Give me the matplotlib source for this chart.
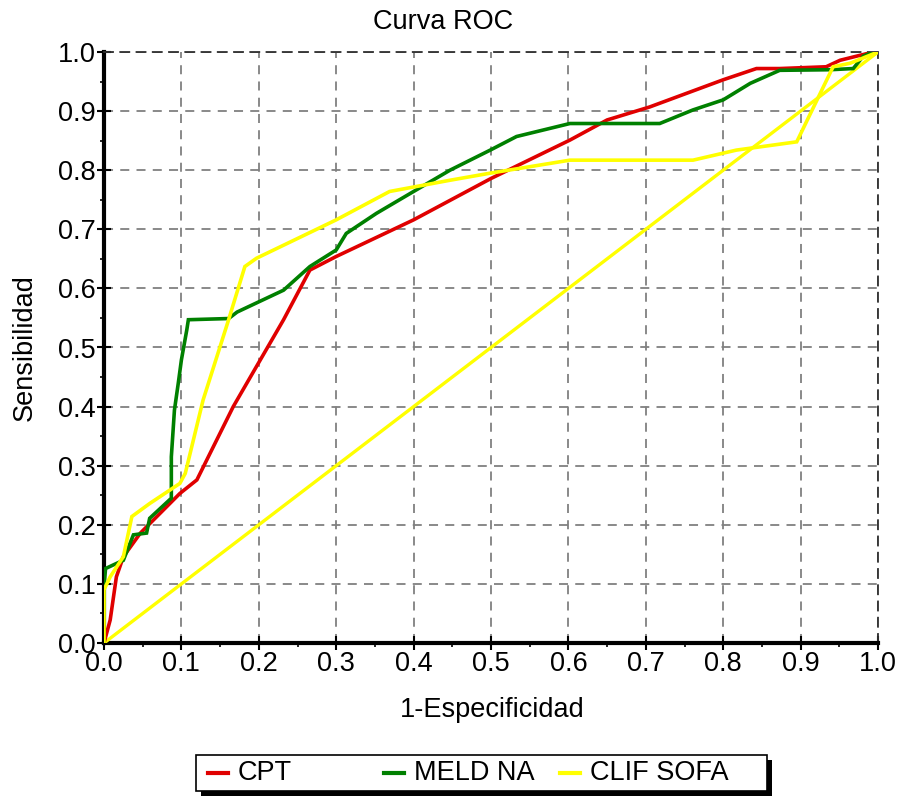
import matplotlib
matplotlib.use("Agg")
import matplotlib.pyplot as plt
from matplotlib.patches import Rectangle
from matplotlib.lines import Line2D
from matplotlib.ticker import MultipleLocator

plt.rcParams['font.family'] = ['Liberation Sans', 'DejaVu Sans']

title = "Curva ROC"
xlabel = "1-Especificidad"
ylabel = "Sensibilidad"

cpt_x = [0, 0.008, 0.016, 0.025, 0.047, 0.098, 0.12, 0.167, 0.232, 0.266, 0.3, 0.4, 0.5,
         0.602, 0.65, 0.705, 0.8, 0.843, 0.873, 0.933, 0.951, 0.994, 1.0]
cpt_y = [0, 0.039, 0.112, 0.146, 0.186, 0.253, 0.276, 0.4, 0.547, 0.631, 0.654, 0.716, 0.786,
         0.851, 0.885, 0.907, 0.953, 0.972, 0.972, 0.975, 0.986, 1.0, 1.0]

meld_x = [0, 0, 0.002, 0.025, 0.038, 0.055, 0.059, 0.087, 0.087, 0.091, 0.096, 0.1, 0.107,
          0.109, 0.161, 0.172, 0.232, 0.266, 0.3, 0.313, 0.352, 0.4, 0.447, 0.499, 0.533,
          0.602, 0.718, 0.761, 0.8, 0.835, 0.873, 0.938, 0.968, 0.981, 0.994, 1.0]
meld_y = [0, 0.095, 0.126, 0.14, 0.183, 0.186, 0.211, 0.245, 0.315, 0.394, 0.44, 0.479, 0.53,
          0.547, 0.549, 0.56, 0.597, 0.637, 0.665, 0.693, 0.727, 0.764, 0.8, 0.834, 0.857,
          0.879, 0.879, 0.902, 0.919, 0.947, 0.969, 0.97, 0.972, 0.993, 1.0, 1.0]

clif_x = [0, 0, 0.008, 0.025, 0.036, 0.059, 0.098, 0.105, 0.128, 0.161, 0.182, 0.197, 0.3,
          0.369, 0.447, 0.499, 0.602, 0.761, 0.817, 0.895, 0.942, 0.964, 1.0]
clif_y = [0, 0.09, 0.112, 0.146, 0.214, 0.236, 0.27, 0.287, 0.411, 0.547, 0.637, 0.651, 0.716,
          0.764, 0.783, 0.795, 0.817, 0.817, 0.834, 0.848, 0.975, 0.981, 1.0]

ref_x = [0, 1]
ref_y = [0, 1]

series = [("CPT", cpt_x, cpt_y, "#e00000"),
          ("MELD NA", meld_x, meld_y, "#008000"),
          ("CLIF SOFA", clif_x, clif_y, "#ffff00")]

W, H = 899, 799
FS = 19.5
fig = plt.figure(figsize=(8.99, 7.99), dpi=100)
ax = fig.add_axes([104/W, 1-643/H, (878-104)/W, (643-52)/H])

ax.plot(ref_x, ref_y, color="#ffff00", lw=2.4, zorder=3)
for name, xs, ys, c in series:
    ax.plot(xs, ys, color=c, lw=2.6, zorder=4, solid_joinstyle='miter')

ax.set_xlim(0, 1)
ax.set_ylim(0, 1)
ax.xaxis.set_major_locator(MultipleLocator(0.1))
ax.yaxis.set_major_locator(MultipleLocator(0.1))
ax.xaxis.set_minor_locator(MultipleLocator(0.05))
ax.yaxis.set_minor_locator(MultipleLocator(0.05))
ax.set_xticklabels([f"{v:.1f}" for v in ax.get_xticks()])
ax.set_yticklabels([f"{v:.1f}" for v in ax.get_yticks()])
ax.tick_params(which='major', direction='inout', length=10, width=1.5, labelsize=FS, pad=1)
ax.tick_params(which='minor', direction='out', length=3, width=1.2)
ax.grid(True, which='major', linestyle=(0, (5, 4)), color='#808080', lw=1.3)
ax.set_axisbelow(True)
for s in ['left', 'bottom']:
    ax.spines[s].set_linewidth(3)
    ax.spines[s].set_color('black')
for s in ['top', 'right']:
    ax.spines[s].set_linestyle((0, (5, 4)))
    ax.spines[s].set_color('#303030')
    ax.spines[s].set_linewidth(1.3)

fig.text(443/W, 1-22/H, title, fontsize=FS, ha='center', va='center')
fig.text(492/W, 1-710/H, xlabel, fontsize=FS, ha='center', va='center')
fig.text(25/W, 1-348/H, ylabel, fontsize=FS, ha='center', va='center', rotation=90)

# legend box with hard shadow
bx0, bx1, by0, by1 = 196, 767, 755, 791
fig.patches.append(Rectangle(((bx0 + 5)/W, 1-(by1 + 5)/H), (bx1-bx0)/W, (by1-by0)/H,
                             transform=fig.transFigure, facecolor='black', edgecolor='none', zorder=1))
fig.patches.append(Rectangle((bx0/W, 1-by1/H), (bx1-bx0)/W, (by1-by0)/H,
                             transform=fig.transFigure, facecolor='white', edgecolor='black', lw=1.2, zorder=2))
entry_x = [208, 384, 560]
ly = 1 - 773/H
for (name, xs, ys, c), ex in zip(series, entry_x):
    fig.lines.append(Line2D([ex/W, (ex+20)/W], [ly, ly], transform=fig.transFigure, color=c, lw=3, zorder=3))
    fig.text((ex+30)/W, ly, name, fontsize=FS, va='center', ha='left', zorder=3)

fig.savefig("out.png", dpi=100)
